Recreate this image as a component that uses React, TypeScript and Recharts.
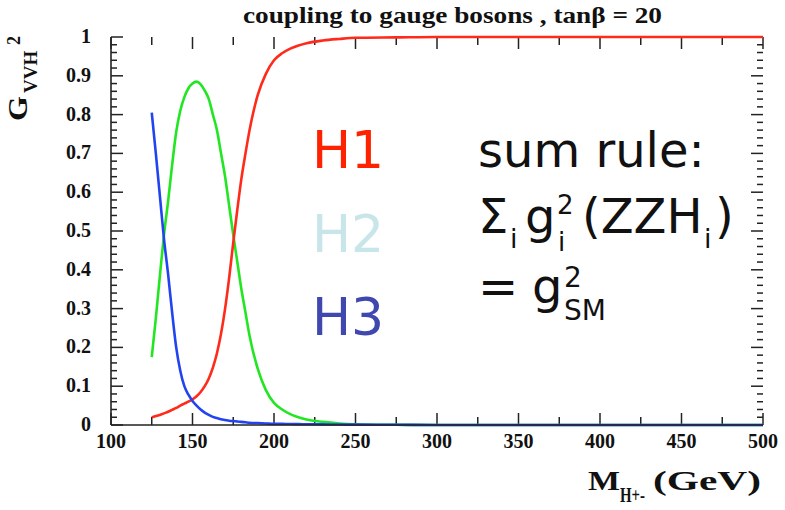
import React from "react";
import { LineChart, Line, XAxis, YAxis, ReferenceLine } from "recharts";

const mass = [125, 127.5, 130, 132.5, 135, 137.5, 140, 142.5, 145, 147.5, 150, 152.5, 155, 157.5, 160, 162.5, 165, 167.5, 170, 172.5, 175, 177.5, 180, 182.5, 185, 190, 195, 200, 205, 210, 215, 220, 230, 240, 250, 275, 300, 350, 400, 450, 500];
const h1 = [0.02, 0.023, 0.026, 0.03, 0.034, 0.039, 0.044, 0.05, 0.055, 0.06, 0.066, 0.074, 0.085, 0.1, 0.12, 0.148, 0.185, 0.235, 0.3, 0.38, 0.47, 0.555, 0.635, 0.7, 0.76, 0.85, 0.905, 0.94, 0.958, 0.97, 0.978, 0.984, 0.991, 0.995, 0.998, 0.999, 1, 1, 1, 1, 1];
const h2 = [0.175, 0.275, 0.385, 0.49, 0.575, 0.67, 0.755, 0.81, 0.845, 0.868, 0.88, 0.885, 0.878, 0.862, 0.84, 0.8, 0.76, 0.7, 0.64, 0.565, 0.49, 0.42, 0.35, 0.29, 0.23, 0.145, 0.09, 0.057, 0.04, 0.028, 0.02, 0.014, 0.008, 0.004, 0.002, 0.0005, 0, 0, 0, 0, 0];
const h3 = [0.805, 0.7, 0.59, 0.48, 0.39, 0.29, 0.2, 0.14, 0.1, 0.078, 0.062, 0.05, 0.04, 0.032, 0.026, 0.021, 0.018, 0.015, 0.013, 0.011, 0.01, 0.009, 0.008, 0.007, 0.006, 0.005, 0.004, 0.003, 0.0028, 0.0025, 0.0022, 0.002, 0.0015, 0.0012, 0.001, 0.0005, 0, 0, 0, 0, 0];

const xMajor = [100, 150, 200, 250, 300, 350, 400, 450, 500];
const xMinor = [125, 175, 225, 275, 325, 375, 425, 475];
const yMajor = [0, 0.1, 0.2, 0.3, 0.4, 0.5, 0.6, 0.7, 0.8, 0.9, 1];
const yMinor = [0.02, 0.04, 0.06, 0.08, 0.12, 0.14, 0.16, 0.18, 0.22, 0.24, 0.26, 0.28, 0.32, 0.34, 0.36, 0.38, 0.42, 0.44, 0.46, 0.48, 0.52, 0.54, 0.56, 0.58, 0.62, 0.64, 0.66, 0.68, 0.72, 0.74, 0.76, 0.78, 0.82, 0.84, 0.86, 0.88, 0.92, 0.94, 0.96, 0.98];

const data = mass.map((m, i) => ({ m, h1: h1[i], h2: h2[i], h3: h3[i] }));

// plot frame (page px)
const L = 111, R = 763, T = 37, B = 425;
const W = 785, H = 510;
const AX = "#222";
const serif = "'Liberation Serif', 'Times New Roman', serif";
const sans = "'DejaVu Sans', Verdana, sans-serif";
const al = { stroke: AX, strokeWidth: 1.6 };

// tick lengths converted to data units
const pxX = 400 / (R - L);
const pxY = 1 / (B - T);

const BottomLabel = (props: any) => (
  <text x={props.x} y={B + 23} textAnchor="middle" fontFamily={serif} fontWeight="bold" fontSize={20} fill="#111">
    {props.payload.value}
  </text>
);

const LeftLabel = (props: any) => (
  <text x={L - 20} y={props.y + 6} textAnchor="end" fontFamily={serif} fontWeight="bold" fontSize={20} fill="#111">
    {Math.round(props.payload.value * 10) / 10}
  </text>
);

const xDom: [number, number] = [100, 500];
const yDom: [number, number] = [0, 1];

// inward tick marks on all four sides of the frame
const ticks = () => {
  const out: any[] = [];
  const seg = (k: string, a: any, b: any) => (
    <ReferenceLine key={k} segment={[a, b]} stroke={AX} strokeWidth={1.5} ifOverflow="visible" />
  );
  yMajor.forEach((v) => {
    out.push(seg("lM" + v, { x: 100, y: v }, { x: 100 + 12 * pxX, y: v }));
    out.push(seg("rM" + v, { x: 500, y: v }, { x: 500 - 12 * pxX, y: v }));
  });
  yMinor.forEach((v) => {
    out.push(seg("lm" + v, { x: 100, y: v }, { x: 100 + 6 * pxX, y: v }));
    out.push(seg("rm" + v, { x: 500, y: v }, { x: 500 - 6 * pxX, y: v }));
  });
  xMajor.forEach((v) => {
    out.push(seg("tM" + v, { x: v, y: 1 }, { x: v, y: 1 - 12 * pxY }));
    out.push(seg("bM" + v, { x: v, y: 0 }, { x: v, y: 12 * pxY }));
  });
  xMinor.forEach((v) => {
    out.push(seg("tm" + v, { x: v, y: 1 }, { x: v, y: 1 - 8 * pxY }));
    out.push(seg("bm" + v, { x: v, y: 0 }, { x: v, y: 8 * pxY }));
  });
  return out;
};

export default function App() {
  return (
    <div style={{ position: "absolute", left: 0, top: 0, width: W, height: H, background: "#fff" }}>
      <LineChart
        width={W}
        height={H}
        data={data}
        margin={{ top: T, right: W - R, bottom: H - B - 40, left: L - 60 }}
      >
        <XAxis xAxisId={0} dataKey="m" type="number" domain={xDom} ticks={xMajor} interval={0} height={40} tickLine={false} axisLine={al} tick={<BottomLabel />} />
        <XAxis xAxisId="top" orientation="top" dataKey="m" type="number" domain={xDom} ticks={xMajor} height={0} tick={false} tickLine={false} axisLine={al} />
        <YAxis yAxisId={0} type="number" domain={yDom} ticks={yMajor} interval={0} width={60} tickLine={false} axisLine={al} tick={<LeftLabel />} />
        <YAxis yAxisId="right" orientation="right" type="number" domain={yDom} ticks={yMajor} width={0} tick={false} tickLine={false} axisLine={al} />
        {ticks()}
        <Line dataKey="h2" type="monotone" stroke="#22e622" strokeWidth={2.6} dot={false} isAnimationActive={false} />
        <Line dataKey="h1" type="monotone" stroke="#ff2a1a" strokeWidth={2.6} dot={false} isAnimationActive={false} />
        <Line dataKey="h3" type="monotone" stroke="#2244f0" strokeWidth={2.6} dot={false} isAnimationActive={false} />
      </LineChart>
      <svg width={W} height={H} style={{ position: "absolute", left: 0, top: 0, pointerEvents: "none" }}>
        <text x={243} y={23} textLength={419} lengthAdjust="spacingAndGlyphs" fontFamily={serif} fontWeight="bold" fontSize={24} fill="#111">
          coupling to gauge bosons , tanβ = 20
        </text>
        <g transform="translate(27,121) rotate(-90)" fontFamily={serif} fontWeight="bold" fill="#111">
          <text x={0} y={0} fontSize={27} textLength={25} lengthAdjust="spacingAndGlyphs">G</text>
          <text x={28} y={10} fontSize={19}>VVH</text>
          <text x={76} y={-7} fontSize={18}>2</text>
        </g>
        <g fontFamily={serif} fontWeight="bold" fill="#111">
          <text x={588} y={490} fontSize={28} textLength={32} lengthAdjust="spacingAndGlyphs">M</text>
          <text x={620} y={502} fontSize={20} textLength={25} lengthAdjust="spacingAndGlyphs">H+-</text>
          <text x={653} y={490} fontSize={28} textLength={108} lengthAdjust="spacingAndGlyphs">(GeV)</text>
        </g>
        <g fontFamily={sans} fontSize={52}>
          <text x={312} y={168} fill="#ff2200">H1</text>
          <text x={312} y={252} fill="#c8e6ea">H2</text>
          <text x={312} y={335} fill="#4048b0">H3</text>
        </g>
        <g fontFamily={sans} fill="#111">
          <text x={478} y={167} fontSize={48}>sum rule:</text>
          <text x={478} y={233} fontSize={48}>Σ</text>
          <text x={510} y={248} fontSize={27}>i</text>
          <text x={525} y={233} fontSize={48}>g</text>
          <text x={557} y={214} fontSize={26}>2</text>
          <text x={558} y={251} fontSize={26}>i</text>
          <text x={582} y={233} fontSize={48}>(ZZH</text>
          <text x={704} y={248} fontSize={27}>i</text>
          <text x={715} y={233} fontSize={48}>)</text>
          <text x={478} y={303} fontSize={48}>=</text>
          <text x={532} y={303} fontSize={48}>g</text>
          <text x={564} y={287} fontSize={28}>2</text>
          <text x={564} y={320} fontSize={28}>SM</text>
        </g>
      </svg>
    </div>
  );
}
